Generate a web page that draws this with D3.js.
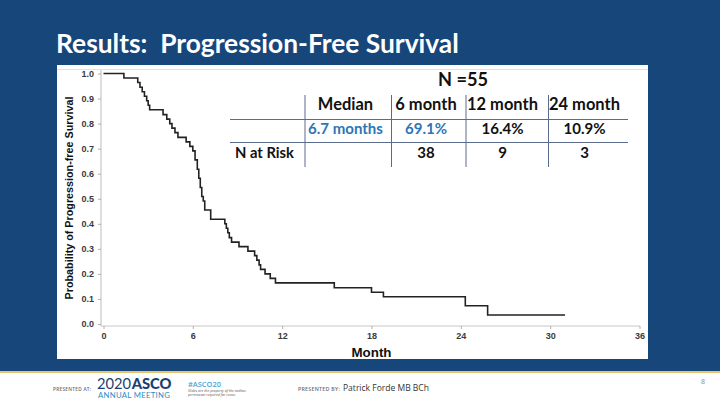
<!DOCTYPE html>
<html>
<head>
<meta charset="utf-8">
<script src="https://cdn.jsdelivr.net/npm/d3@7/dist/d3.min.js"></script>
<style>
  html, body { margin: 0; padding: 0; background: #ffffff; }
  svg { display: block; }
</style>
</head>
<body>
<svg id="chart" width="720" height="405"></svg>
<script>
// ---------- DATA ----------
const eventMonths = [0, 1.37, 2.3, 2.45, 2.6, 2.75, 2.9, 3.0, 3.1, 4.0, 4.25, 4.45, 4.6, 4.8, 5.0,
  5.55, 5.8, 6.0, 6.15, 6.3, 6.4, 6.5, 6.6, 6.7, 6.8, 7.2, 8.15, 8.25, 8.35, 8.45, 8.6,
  9.1, 9.7, 10.15, 10.3, 10.45, 10.55, 10.85, 11.2, 11.55, 15.5, 18.0, 18.8, 24.3, 25.8, 31.0];
const survival = [1.0, 0.982, 0.964, 0.945, 0.927, 0.909, 0.891, 0.873, 0.855, 0.836, 0.818, 0.800, 0.782, 0.764, 0.745,
  0.727, 0.709, 0.691, 0.655, 0.618, 0.582, 0.545, 0.509, 0.491, 0.455, 0.418, 0.400, 0.382, 0.364, 0.345, 0.327,
  0.309, 0.291, 0.273, 0.255, 0.236, 0.218, 0.200, 0.182, 0.164, 0.145, 0.127, 0.109, 0.073, 0.036, 0.036];
const xTicks = [0, 6, 12, 18, 24, 30, 36];
const yTicks = [0.0, 0.1, 0.2, 0.3, 0.4, 0.5, 0.6, 0.7, 0.8, 0.9, 1.0];
const tableTitle = "N =55";
const tableHeaders = ["Median", "6 month", "12 month", "24 month"];
const tableEstimates = ["6.7 months", "69.1%", "16.4%", "10.9%"];
const atRiskLabel = "N at Risk";
const atRisk = ["", "38", "9", "3"];
const titleText = "Results:  Progression-Free Survival";
const yTitle = "Probability of Progression-free Survival";
const xTitle = "Month";

// ---------- DRAW ----------
const svg = d3.select("#chart");
const BLUE = "#17467b";

function fit(sel, w) {
  const n = sel.node();
  const cur = parseFloat(sel.attr("font-size"));
  const len = n.getComputedTextLength();
  if (len > 0) sel.attr("font-size", (cur * w / len).toFixed(2));
  return parseFloat(sel.attr("font-size"));
}

// background
svg.append("rect").attr("x", 0).attr("y", 0).attr("width", 720).attr("height", 371).attr("fill", BLUE);
svg.append("rect").attr("x", 0).attr("y", 371).attr("width", 720).attr("height", 2).attr("fill", "#e9c46a");
svg.append("rect").attr("x", 0).attr("y", 373).attr("width", 720).attr("height", 32).attr("fill", "#ffffff");

// title
const t = svg.append("text").attr("x", 56).attr("y", 53)
  .attr("font-family", "Lato, 'Open Sans', sans-serif").attr("font-weight", 700)
  .attr("font-size", 24).attr("fill", "#ffffff").style("white-space", "pre").text(titleText);
fit(t, 403);

// panel
svg.append("rect").attr("x", 57).attr("y", 65).attr("width", 591).attr("height", 294).attr("fill", "#ffffff");
svg.append("line").attr("x1", 57).attr("x2", 648).attr("y1", 69.5).attr("y2", 69.5)
  .attr("stroke", "#e2e2e2").attr("stroke-width", 1);

// scales
const x = d3.scaleLinear().domain([0, 36]).range([103.5, 639.5]);
const y = d3.scaleLinear().domain([0, 1]).range([324, 73.5]);

// axes
const axFont = "'Liberation Sans', Arial, sans-serif";
const gx = svg.append("g").attr("transform", "translate(0,326)")
  .call(d3.axisBottom(x).tickValues(xTicks).tickSize(3).tickPadding(4).tickFormat(d3.format("d")));
const gy = svg.append("g").attr("transform", "translate(101,0)")
  .call(d3.axisLeft(y).tickValues(yTicks).tickSize(3).tickPadding(4).tickFormat(d3.format(".1f")));
[gx, gy].forEach(g => {
  g.select(".domain").attr("stroke", "#c8c8c8").attr("stroke-width", 1.2);
  g.selectAll(".tick line").attr("stroke", "#b0b0b0");
  g.selectAll(".tick text").attr("font-family", axFont).attr("font-weight", 700)
    .attr("font-size", 9).attr("fill", "#3a3a3a");
});
gx.select(".domain").attr("d", "M101,0H640");
gy.select(".domain").attr("d", "M0,326V70");

// axis titles
const yt = svg.append("text").attr("transform", "translate(73,198) rotate(-90)")
  .attr("text-anchor", "middle").attr("font-family", axFont).attr("font-weight", 700)
  .attr("font-size", 12).attr("fill", "#111").text(yTitle);
fit(yt, 203);
const xt = svg.append("text").attr("x", 371.5).attr("y", 357).attr("text-anchor", "middle")
  .attr("font-family", axFont).attr("font-weight", 700).attr("font-size", 12)
  .attr("fill", "#111").text(xTitle);
fit(xt, 40);

// KM curve
const pts = eventMonths.map((m, i) => [m, survival[i]]);
const line = d3.line().x(d => x(d[0])).y(d => y(d[1])).curve(d3.curveStepAfter);
svg.append("path").datum(pts).attr("d", line).attr("fill", "none")
  .attr("stroke", "#222").attr("stroke-width", 1.6);

// table
const tFont = "Lato, 'Open Sans', sans-serif";
const colX = [345.5, 426, 502.5, 584.5];
const vLines = [305, 391.5, 466, 548.5];
const hLines = [119.5, 142.5];
const nt = svg.append("text").attr("x", 463).attr("y", 86).attr("text-anchor", "middle")
  .attr("font-family", tFont).attr("font-weight", 700).attr("font-size", 17).attr("fill", "#111")
  .text(tableTitle);
fit(nt, 50);
vLines.forEach(vx => svg.append("line").attr("x1", vx).attr("x2", vx).attr("y1", 95).attr("y2", 167)
  .attr("stroke", "#5b6b8c").attr("stroke-width", 1));
hLines.forEach(hy => svg.append("line").attr("x1", 230).attr("x2", 628).attr("y1", hy).attr("y2", hy)
  .attr("stroke", "#5b6b8c").attr("stroke-width", 1));

const hdr = tableHeaders.map((h, i) => svg.append("text").attr("x", colX[i]).attr("y", 110)
  .attr("text-anchor", "middle").attr("font-family", tFont).attr("font-weight", 700)
  .attr("font-size", 16).attr("fill", "#111").text(h));
const hs = fit(hdr[2], 71);
hdr.forEach(s => s.attr("font-size", hs));

const est = tableEstimates.map((h, i) => svg.append("text").attr("x", colX[i]).attr("y", 134)
  .attr("text-anchor", "middle").attr("font-family", tFont).attr("font-weight", 700)
  .attr("font-size", 14).attr("fill", i < 2 ? "#2e75b6" : "#111").text(h));
const es = (fit(est[0], 76) + fit(est[1], 41.5)) / 2;
est.forEach(s => s.attr("font-size", es));

const nar = svg.append("text").attr("x", 235).attr("y", 158).attr("font-family", tFont).attr("font-weight", 700)
  .attr("font-size", 14).attr("fill", "#111").text(atRiskLabel);
fit(nar, 59);
atRisk.forEach((h, i) => svg.append("text").attr("x", colX[i]).attr("y", 158)
  .attr("text-anchor", "middle").attr("font-family", tFont).attr("font-weight", 700)
  .attr("font-size", es).attr("fill", "#111").text(h));

// footer
const fFont = "'Open Sans', Lato, sans-serif";
const pa = svg.append("text").attr("x", 53).attr("y", 391).attr("font-family", fFont).attr("font-weight", 600)
  .attr("font-size", 5.5).attr("fill", "#6b6b6b").attr("letter-spacing", 0.3).text("PRESENTED AT:");
fit(pa, 38);
const logo = svg.append("text").attr("x", 97).attr("y", 388.5).attr("font-family", "Lato, sans-serif")
  .attr("font-size", 13).attr("fill", "#1c3f73");
logo.append("tspan").attr("font-weight", 400).text("2020");
logo.append("tspan").attr("font-weight", 900).attr("dx", 0.5).text("ASCO");
const ls = fit(logo, 74);
logo.selectAll("tspan").attr("font-size", null);
const am = svg.append("text").attr("x", 98).attr("y", 398).attr("font-family", "Lato, sans-serif")
  .attr("font-size", 6.5).attr("fill", "#2c8cbf").attr("letter-spacing", 0.3).text("ANNUAL MEETING");
fit(am, 73);
const hs2 = svg.append("text").attr("x", 188).attr("y", 386.5).attr("font-family", fFont).attr("font-weight", 600)
  .attr("font-size", 6.5).attr("fill", "#4aa3d4").text("#ASCO20");
fit(hs2, 33);
svg.append("text").attr("x", 188).attr("y", 391.5).attr("font-family", fFont).attr("font-style", "italic")
  .attr("font-size", 3.6).attr("fill", "#555").text("Slides are the property of the author,");
svg.append("text").attr("x", 188).attr("y", 395.5).attr("font-family", fFont).attr("font-style", "italic")
  .attr("font-size", 3.6).attr("fill", "#555").text("permission required for reuse.");
const pb = svg.append("text").attr("x", 298).attr("y", 391).attr("font-family", fFont).attr("font-weight", 600)
  .attr("font-size", 5.5).attr("fill", "#6b6b6b").attr("letter-spacing", 0.3).text("PRESENTED BY:");
fit(pb, 42);
const pf = svg.append("text").attr("x", 343).attr("y", 391).attr("font-family", fFont)
  .attr("font-size", 8).attr("fill", "#333").text("Patrick Forde MB BCh");
fit(pf, 86);
svg.append("text").attr("x", 703).attr("y", 384).attr("text-anchor", "middle").attr("font-family", fFont)
  .attr("font-size", 7).attr("fill", "#888").text("8");
</script>
</body>
</html>
